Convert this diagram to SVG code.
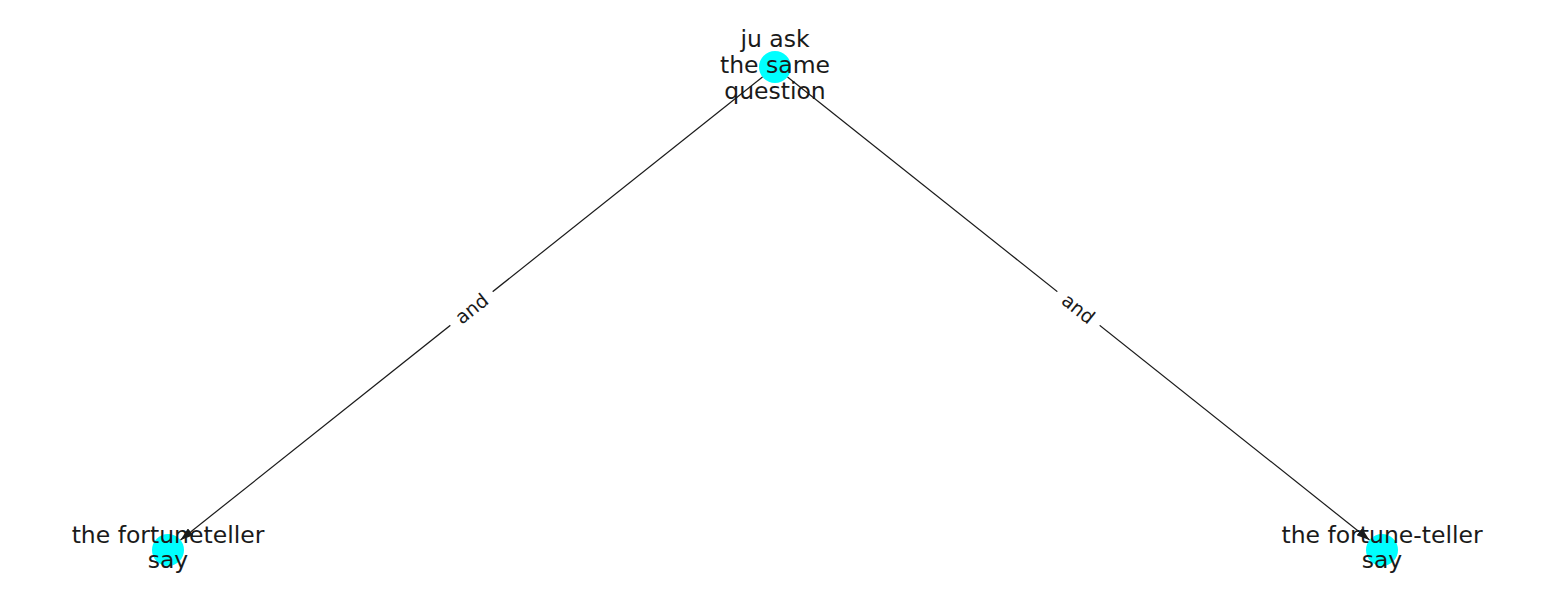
<svg xmlns="http://www.w3.org/2000/svg" width="1550" height="616" viewBox="0 0 1550 616">
<style>
.node{fill:#00ffff}
.lbl{font-family:"DejaVu Sans",sans-serif;font-size:23.5px;fill:#1a1a1a;text-anchor:middle}
.edge{stroke:#1a1a1a;stroke-width:1.2;fill:none}
.elbl{font-family:"DejaVu Sans",sans-serif;font-size:19px;fill:#1a1a1a;text-anchor:middle;dominant-baseline:central}
</style>
<defs>
<marker id="arr" viewBox="0 0 13 9" refX="13" refY="4.5" markerWidth="13" markerHeight="9" markerUnits="userSpaceOnUse" orient="auto">
<path d="M0,0 L13,4.5 L0,9 z" fill="#1a1a1a"/>
</marker>
</defs>
<rect width="1550" height="616" fill="#ffffff"/>
<g id="node-top">
<circle class="node" cx="775" cy="67" r="16"/>
<text class="lbl" x="775" y="47">ju ask</text>
<text class="lbl" x="775" y="73">the same</text>
<text class="lbl" x="775" y="99">question</text>
</g>
<g id="node-left">
<circle class="node" cx="168" cy="550" r="16"/>
<text class="lbl" x="168" y="543">the fortuneteller</text>
<text class="lbl" x="168" y="568">say</text>
</g>
<g id="node-right">
<circle class="node" cx="1382" cy="550" r="16"/>
<text class="lbl" x="1382" y="543">the fortune-teller</text>
<text class="lbl" x="1382" y="568">say</text>
</g>
<g id="connectors">
<line class="edge" x1="762.5" y1="77" x2="180.5" y2="540" marker-end="url(#arr)"/>
<line class="edge" x1="787.5" y1="77" x2="1369.5" y2="540" marker-end="url(#arr)"/>
<g transform="translate(471.5,308.5) rotate(-38.5)">
<rect x="-27" y="-11" width="54" height="22" fill="#ffffff"/>
<text class="elbl" x="0" y="0">and</text>
</g>
<g transform="translate(1078.5,308.5) rotate(38.5)">
<rect x="-27" y="-11" width="54" height="22" fill="#ffffff"/>
<text class="elbl" x="0" y="0">and</text>
</g>
</g>
</svg>
